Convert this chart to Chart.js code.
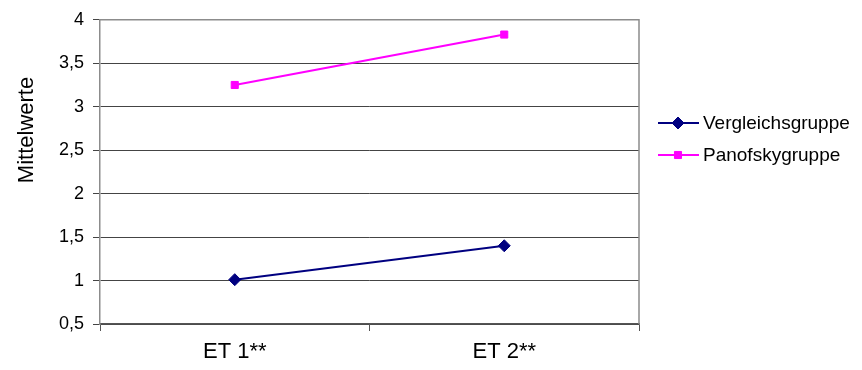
<!DOCTYPE html>
<html>
<head>
<meta charset="utf-8">
<script src="https://cdn.jsdelivr.net/npm/chart.js@4/dist/chart.umd.min.js"></script>
<style>
    html, body { margin: 0; padding: 0; background: #fff; }
    #wrap { width: 862px; height: 370px; position: relative; }
</style>
</head>
<body>
<div id="wrap"><canvas id="chart"></canvas></div>
<script>
// Daten
const categories = ['ET 1**', 'ET 2**'];
const vergleichsgruppe = [1.01, 1.40];
const panofskygruppe = [3.25, 3.83];
const yTicks = [0.5, 1, 1.5, 2, 2.5, 3, 3.5, 4];

const fontFamily = 'Arial, "Liberation Sans", sans-serif';

// Rahmen, Achsentitel und Legende selbst zeichnen
const extras = {
    id: 'extras',
    afterDraw(chart) {
        const ctx = chart.ctx;
        const area = chart.chartArea;
        ctx.save();
        // grauer Rahmen oben und rechts
        ctx.strokeStyle = '#8c8c8c';
        ctx.lineWidth = 1.5;
        ctx.beginPath();
        ctx.moveTo(area.left, area.top);
        ctx.lineTo(area.right, area.top);
        ctx.lineTo(area.right, area.bottom);
        ctx.stroke();

        // Achsentitel
        ctx.fillStyle = '#000';
        ctx.font = '22px ' + fontFamily;
        ctx.textAlign = 'center';
        ctx.textBaseline = 'middle';
        ctx.translate(27, 130);
        ctx.rotate(-Math.PI / 2);
        ctx.fillText('Mittelwerte', 0, 0);
        ctx.restore();

        // Legende
        ctx.save();
        const rows = [123, 155];
        chart.data.datasets.forEach((ds, i) => {
            const y = rows[i];
            ctx.strokeStyle = ds.borderColor;
            ctx.fillStyle = ds.backgroundColor;
            ctx.lineWidth = 2;
            ctx.beginPath();
            ctx.moveTo(658, y);
            ctx.lineTo(699, y);
            ctx.stroke();
            ctx.lineWidth = 1;
            Chart.helpers.drawPoint(ctx, {
                pointStyle: ds.pointStyle,
                radius: ds.pointRadius,
                rotation: 0,
                borderWidth: 1
            }, 678, y);
            ctx.fillStyle = '#000';
            ctx.font = '19px ' + fontFamily;
            ctx.textAlign = 'left';
            ctx.textBaseline = 'middle';
            ctx.fillText(ds.label, 703, y + 1);
        });
        ctx.restore();
    }
};

const ctx = document.getElementById('chart').getContext('2d');
new Chart(ctx, {
    type: 'line',
    data: {
        labels: categories,
        datasets: [{
            label: 'Vergleichsgruppe',
            data: vergleichsgruppe,
            borderColor: '#000080',
            backgroundColor: '#000080',
            pointStyle: 'rectRot',
            pointRadius: 6,
            pointBorderWidth: 1,
            borderWidth: 2,
            tension: 0
        }, {
            label: 'Panofskygruppe',
            data: panofskygruppe,
            borderColor: '#ff00ff',
            backgroundColor: '#ff00ff',
            pointStyle: 'rect',
            pointRadius: 5,
            pointBorderWidth: 1,
            borderWidth: 2,
            tension: 0
        }]
    },
    options: {
        responsive: true,
        maintainAspectRatio: false,
        animation: false,
        layout: {
            padding: { left: 0, right: 223, top: 19, bottom: 0 }
        },
        plugins: {
            legend: { display: false },
            tooltip: { enabled: false }
        },
        scales: {
            x: {
                offset: true,
                grid: {
                    offset: true,
                    drawOnChartArea: false,
                    color: '#555',
                    tickLength: 7
                },
                border: { color: '#555', width: 1.5 },
                ticks: {
                    color: '#000',
                    padding: 8,
                    font: { family: fontFamily, size: 22 }
                },
                afterFit(scale) { scale.height = 46; }
            },
            y: {
                min: 0.5,
                max: 4,
                afterBuildTicks(scale) {
                    scale.ticks = yTicks.map(v => ({ value: v }));
                },
                grid: {
                    color: '#444',
                    lineWidth: 1,
                    tickLength: 7
                },
                border: { color: '#8c8c8c', width: 1.5 },
                ticks: {
                    color: '#000',
                    padding: 9,
                    font: { family: fontFamily, size: 18 },
                    callback: v => String(v).replace('.', ',')
                },
                afterFit(scale) { scale.width = 100; }
            }
        }
    },
    plugins: [extras]
});
</script>
</body>
</html>
